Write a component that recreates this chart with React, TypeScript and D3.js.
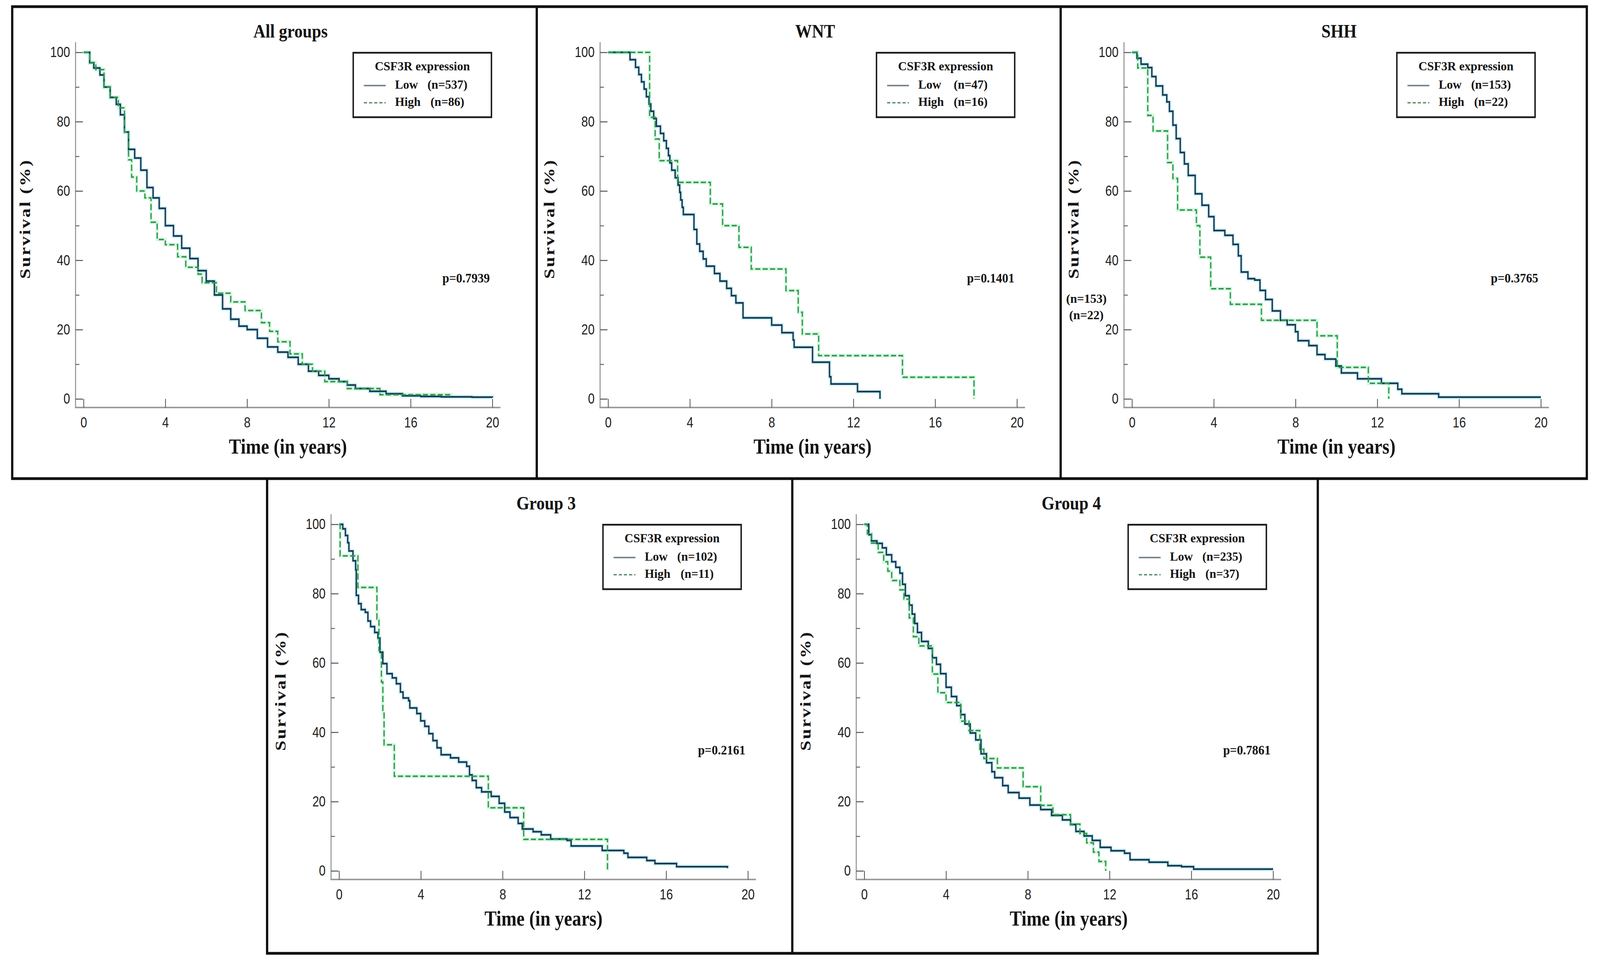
import * as d3 from 'd3';
import React, { useEffect, useRef } from 'react';

// ---- survival data (time in years, survival in %) ----
const allLowTime = [0,0.3,0.5,0.8,1.0,1.3,1.6,1.8,2.0,2.2,2.5,2.8,3.1,3.4,3.7,4.0,4.4,4.8,5.2,5.6,6.0,6.4,6.8,7.2,7.6,8.0,8.5,9.0,9.5,10.0,10.5,11.0,11.5,12.0,12.5,12.9,13.3,14.0,14.8,15.6,16.5,17.5,19.0,20.0];
const allLowSurv = [100,97,95.5,93.5,90,87,85,82,77,72,69.5,66,61,58,55,50,47,43.5,40.5,37,34,30,26,23,21,20,17.5,15,13.5,12,10,8,6.8,5.8,5,4,3,2.2,1.5,0.9,0.7,0.6,0.5,0.4];
const allHighTime = [0,0.3,0.6,1.0,1.3,1.7,2.0,2.2,2.35,2.6,3.0,3.3,3.6,4.0,4.6,5.0,5.6,5.8,6.5,7.2,7.9,8.7,9.1,9.5,10.1,10.7,11.2,11.8,12.9,14.5,18.0];
const allHighSurv = [100,97,95,90,87,84,77,69,64,60,58,51,46,44.5,41,38,36,33.5,30.5,28,25.5,22,19.5,16.5,13,10,8,5,3,1.2,1.0];

const wntLowTime = [0,1.07,1.34,1.5,1.63,1.76,1.87,2.0,2.09,2.23,2.36,2.56,2.72,2.85,2.95,3.02,3.11,3.28,3.42,3.5,3.55,3.62,3.68,4.2,4.34,4.48,4.65,4.8,5.2,5.47,5.8,6.03,6.25,6.6,8.0,8.5,9.05,9.1,10.0,10.83,10.9,12.2,13.3];
const wntLowSurv = [100,97.9,95.7,93.6,91.5,89.4,87.2,85.1,83,80.9,78.7,76.6,74.5,72.3,70.2,68.1,66,63.8,61.7,59.6,57.4,55.3,53.2,48.9,44.7,42.6,40.4,38.3,36.2,34,31.9,29.8,27.7,23.4,21.3,19.1,17,14.9,10.6,6.4,4.3,2.1,0];
const wntHighTime = [0,2.03,2.3,2.5,3.4,5.0,5.6,6.4,7.0,8.7,9.3,9.5,10.3,14.4,17.9];
const wntHighSurv = [100,81.25,75,68.75,62.5,56.25,50,43.75,37.5,31.25,25,18.75,12.5,6.25,0];

const shhLowTime = [0,0.24,0.44,0.77,0.97,1.17,1.5,1.7,1.83,2.0,2.16,2.36,2.56,2.75,3.09,3.42,3.75,4.01,4.54,4.94,5.2,5.34,5.67,6.0,6.26,6.53,6.86,7.26,7.59,7.99,8.12,8.65,9.05,9.44,9.97,10.24,11.03,12.2,13.0,13.2,15.0,20.0];
const shhLowSurv = [100,98.3,96.6,95.6,93,90.3,87.7,85.7,83,79,75.1,71.1,67.8,64.5,59.2,55.9,52.6,48.6,47.2,44.6,41.3,36.6,34.7,34.3,31.3,28.7,25.4,22.7,21.4,19.4,16.8,15.4,12.8,11.5,9.5,7.5,5.8,4.5,2.8,1.5,0.5,0.5];
const shhHighTime = [0,0.28,0.77,1.03,1.74,2.0,2.23,3.15,3.32,3.85,4.81,6.33,9.05,10.04,11.56,12.56];
const shhHighSurv = [100,95.5,81.8,77.3,68.2,63.6,54.5,50,40.9,31.8,27.3,22.7,18.2,9.1,4.5,0];

const g3LowTime = [0,0.18,0.31,0.42,0.48,0.68,0.81,0.84,0.95,1.08,1.28,1.41,1.54,1.74,1.9,2.0,2.14,2.34,2.6,2.8,3.0,3.13,3.4,3.46,3.8,3.99,4.19,4.39,4.59,4.79,4.99,5.45,5.85,6.24,6.38,6.51,6.71,6.97,7.44,7.83,8.1,8.36,8.76,8.96,9.49,9.89,10.35,11.15,11.35,12.87,13.93,14.13,15.05,15.45,16.51,19.0];
const g3LowSurv = [100,98.7,96.8,94.7,92.3,89.5,86.9,79.5,77.1,75.4,74.6,72.1,70.5,68.8,67.2,63.1,59.8,56.9,55.7,54,51.6,49.9,49.1,47,45.4,43.3,41.7,39.6,37.6,35.5,33.5,32.6,31.4,30.2,27.7,26.1,24,22.8,21.5,19.5,17,15.4,13.7,12.1,11.3,10.4,9.2,8.8,7.2,5.9,5.1,3.9,3.0,2.1,1.2,0.8];
const g3HighTime = [0,0.05,0.92,1.85,1.95,2.07,2.14,2.2,2.7,7.3,9.03,13.13];
const g3HighSurv = [100,90.9,81.8,72.7,63.6,54.5,45.5,36.4,27.3,18.2,9.1,0];

const g4LowTime = [0,0.22,0.35,0.62,0.88,1.08,1.34,1.54,1.74,1.87,2.01,2.2,2.34,2.47,2.6,2.8,3.13,3.33,3.53,3.73,4.0,4.26,4.52,4.72,4.92,5.18,5.45,5.71,5.98,6.24,6.38,6.77,7.04,7.57,8.1,8.63,9.16,9.69,10.09,10.35,10.75,11.15,11.54,12.07,12.73,13.0,13.93,14.85,15.52,16.11,20.0];
const g4LowSurv = [100,97,95.2,94.5,93.2,91.2,89.2,87.6,85.9,82.7,79.4,76.7,74.1,71.4,68.8,66.2,64.2,61.5,59.6,56.9,53,50.3,47.7,45.1,42.4,39.8,37.8,33.8,31.2,28.6,26.9,24.6,22.6,21,19,17.7,16,14.7,13.4,11.4,10.1,8.8,6.8,5.8,5.1,3.2,2.5,1.5,1.2,0.5,0.5];
const g4HighTime = [0,0.15,0.35,0.68,0.95,1.15,1.34,1.74,1.94,2.2,2.4,2.67,3.33,3.6,4.0,4.72,5.12,5.65,5.85,6.51,7.77,8.63,9.23,10.09,10.55,10.88,11.21,11.48,11.81];
const g4HighSurv = [100,97.3,94.6,91.9,89.2,86.5,83.8,81.1,78.4,73,67.6,64.9,56.8,51.4,48.6,43.2,40.5,35.1,32.4,29.7,24.3,18.9,16.2,13.5,10.8,8.1,5.4,2.7,0];

const panelTitles = ['All groups', 'WNT', 'SHH', 'Group 3', 'Group 4'];
const lowCounts = [537, 47, 153, 102, 235];
const highCounts = [86, 16, 22, 11, 37];
const pValues = ['p=0.7939', 'p=0.1401', 'p=0.3765', 'p=0.2161', 'p=0.7861'];
const xTicks = [0, 4, 8, 12, 16, 20];
const yTicks = [0, 20, 40, 60, 80, 100];
const yMinorTicks = [10, 30, 50, 70, 90];

const lowTimes = [allLowTime, wntLowTime, shhLowTime, g3LowTime, g4LowTime];
const lowSurvs = [allLowSurv, wntLowSurv, shhLowSurv, g3LowSurv, g4LowSurv];
const highTimes = [allHighTime, wntHighTime, shhHighTime, g3HighTime, g4HighTime];
const highSurvs = [allHighSurv, wntHighSurv, shhHighSurv, g3HighSurv, g4HighSurv];

// ---- layout ----
const W = 4978, H = 2475;
const panelOrigins = [[38, 17], [1670, 17], [3300, 17], [833, 1225], [2467, 1225]];
const legendLeft = [1061, 1057, 1046, 1043, 1043];

const SERIF = "'Liberation Serif','Times New Roman',serif";
const SANS = "'Liberation Sans',Arial,sans-serif";

const putText = (g: any, x: number, y: number, str: string, size: number, opt: any = {}) => {
  const { anchor = 'start', weight = 'bold', family = SERIF, sx = 1, fill = '#141414', spacing = 0, rotate = 0 } = opt
  const t = g.append('text')
    .attr('transform', `translate(${x},${y})` + (rotate ? ` rotate(${rotate})` : '') + ` scale(${sx},1)`)
    .attr('text-anchor', anchor)
    .attr('font-family', family)
    .attr('font-size', size)
    .attr('font-weight', weight)
    .attr('fill', fill)
  if (spacing) t.attr('letter-spacing', spacing)
  t.text(str)
  return t
}

const drawPanel = (svg: any, i: number) => {
  const [px, py] = panelOrigins[i]
  const g = svg.append('g').attr('transform', `translate(${px},${py})`)
  const x = d3.scaleLinear().domain([0, 20]).range([222, 1494])
  const y = d3.scaleLinear().domain([0, 100]).range([1004, 117])
  const axisX = 197, axisY = 1026

  // axis lines (offset frame like the original software)
  g.append('line').attr('x1', axisX).attr('x2', axisX).attr('y1', 91).attr('y2', axisY)
    .attr('stroke', '#8d8d8d').attr('stroke-width', 3)
  g.append('line').attr('x1', axisX - 2).attr('x2', 1519).attr('y1', axisY).attr('y2', axisY)
    .attr('stroke', '#9c9c9c').attr('stroke-width', 4)

  const yAxis = g.append('g').attr('transform', `translate(${axisX},0)`)
    .call(d3.axisLeft(y).tickValues(yTicks).tickSizeInner(-23).tickSizeOuter(0).tickPadding(17))
  yAxis.select('.domain').remove()
  yAxis.selectAll('line').attr('stroke', '#555').attr('stroke-width', 2.5)
  yAxis.selectAll('text').attr('font-family', SANS).attr('font-size', 37).attr('fill', '#1e1e1e')

  const yMinor = g.append('g').attr('transform', `translate(${axisX},0)`)
    .call(d3.axisLeft(y).tickValues(yMinorTicks).tickSizeInner(-12).tickSizeOuter(0).tickFormat(() => ''))
  yMinor.select('.domain').remove()
  yMinor.selectAll('line').attr('stroke', '#666').attr('stroke-width', 2.5)

  const xAxis = g.append('g').attr('transform', `translate(0,${axisY})`)
    .call(d3.axisBottom(x).tickValues(xTicks).tickSizeInner(-22).tickSizeOuter(0).tickPadding(25))
  xAxis.select('.domain').remove()
  xAxis.selectAll('line').attr('stroke', '#555').attr('stroke-width', 2.5)
  xAxis.selectAll('text').attr('font-family', SANS).attr('font-size', 37).attr('fill', '#1e1e1e')

  // curves
  const line = d3.line().x((d: any) => x(d[0])).y((d: any) => y(d[1])).curve(d3.curveStepAfter)
  const lowPts = d3.zip(lowTimes[i], lowSurvs[i])
  const highPts = d3.zip(highTimes[i], highSurvs[i])
  g.append('path').attr('d', line(lowPts as any)).attr('fill', 'none')
    .attr('stroke', '#aeeef4').attr('stroke-width', 11).attr('stroke-opacity', 0.55)
  g.append('path').attr('d', line(highPts as any)).attr('fill', 'none')
    .attr('stroke', '#bdf2cc').attr('stroke-width', 10).attr('stroke-opacity', 0.55)
  g.append('path').attr('d', line(lowPts as any)).attr('fill', 'none')
    .attr('stroke', '#1b3b58').attr('stroke-width', 4.5)
  g.append('path').attr('d', line(highPts as any)).attr('fill', 'none')
    .attr('stroke', '#2c9a4e').attr('stroke-width', 4).attr('stroke-dasharray', '16,7')

  // title, axis labels, p value
  putText(g, 866, 79, panelTitles[i], 48, { anchor: 'middle', sx: 1.08 })
  putText(g, 858, axisY + 118, 'Time (in years)', 54, { anchor: 'middle', sx: 1.05 })
  putText(g, 55, 543, 'Survival (%)', 47, { anchor: 'middle', rotate: -90, spacing: 4 })
  putText(g, 1486, 706, pValues[i], 34, { anchor: 'end', sx: 1.12 })

  // legend
  const lx = legendLeft[i], ly = 118
  g.append('rect').attr('x', lx).attr('y', ly).attr('width', 430).attr('height', 165)
    .attr('fill', '#fff').attr('stroke', '#1a1a1a').attr('stroke-width', 4.5)
  putText(g, lx + 215, ly + 45, 'CSF3R expression', 32, { anchor: 'middle', sx: 1.18 })
  g.append('line').attr('x1', lx + 33).attr('x2', lx + 101).attr('y1', ly + 84).attr('y2', ly + 84)
    .attr('stroke', '#7a8790').attr('stroke-width', 4)
  g.append('line').attr('x1', lx + 33).attr('x2', lx + 101).attr('y1', ly + 128).attr('y2', ly + 128)
    .attr('stroke', '#5a8f6a').attr('stroke-width', 3.5).attr('stroke-dasharray', '10,6')
  putText(g, lx + 130, ly + 92, 'Low', 32, { sx: 1.18 })
  putText(g, lx + 293, ly + 92, `(n=${lowCounts[i]})`, 32, { anchor: 'middle', sx: 1.18 })
  putText(g, lx + 130, ly + 136, 'High', 32, { sx: 1.18 })
  putText(g, lx + 293, ly + 136, `(n=${highCounts[i]})`, 32, { anchor: 'middle', sx: 1.18 })

  // stray group-size labels left of the SHH axis
  if (i === 2) {
    putText(g, 80, 758, `(n=${lowCounts[i]})`, 32, { anchor: 'middle', sx: 1.2 })
    putText(g, 80, 800, `(n=${highCounts[i]})`, 32, { anchor: 'middle', sx: 1.2 })
  }
}

const App = () => {
  const ref = useRef<SVGSVGElement>(null)

  useEffect(() => {
    document.body.style.margin = '0'
    document.body.style.overflow = 'hidden'
    const svg = d3.select(ref.current)
    svg.selectAll('*').remove()
    svg.append('rect').attr('width', W).attr('height', H).attr('fill', '#fff')
    for (let i = 0; i < panelTitles.length; i++) drawPanel(svg, i)
    // panel frames
    svg.append('path')
      .attr('d', 'M38,17H4937V1225H38Z M1670,17V1225 M3300,17V1225 M831,1225H4100V2440H831Z M2465,1225V2440')
      .attr('fill', 'none').attr('stroke', '#0d0d0d').attr('stroke-width', 7)
  }, [])

  // the svg fills the whole viewport; the viewBox keeps the figure's own pixel grid
  return (
    <svg ref={ref} viewBox={`0 0 ${W} ${H}`} preserveAspectRatio="none"
      style={{ position: 'absolute', left: 0, top: 0, width: '100vw', height: '100vh', display: 'block' }} />
  )
}

export default App;
